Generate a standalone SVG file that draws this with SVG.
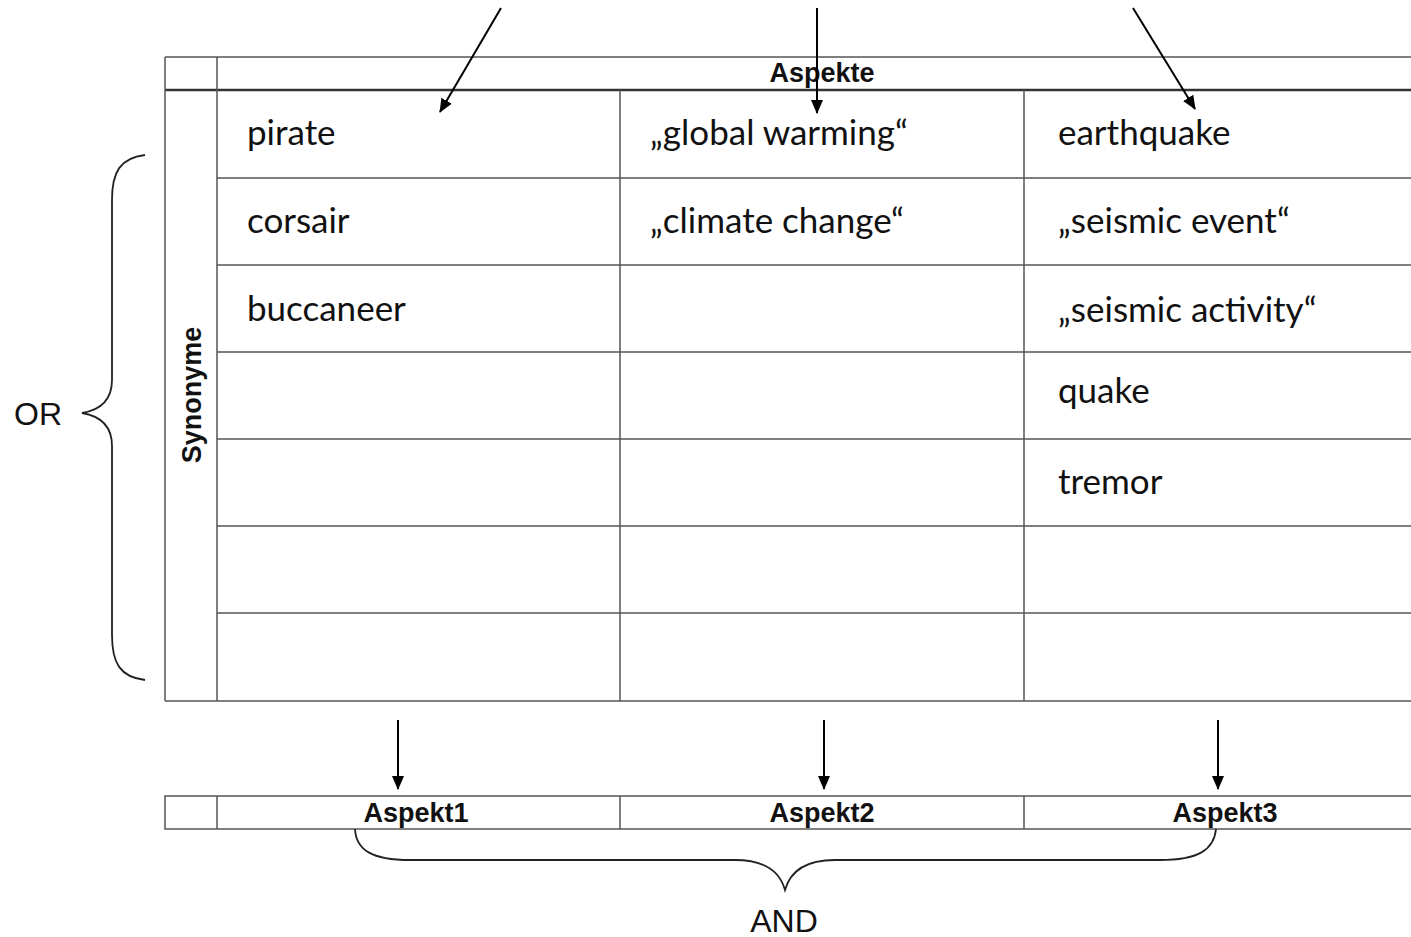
<svg xmlns="http://www.w3.org/2000/svg" width="1411" height="937" viewBox="0 0 1411 937">
<style>
.grid{stroke:#555;stroke-width:1.5;fill:none}
.thick{stroke:#333;stroke-width:2.5;fill:none}
.cell{font-family:Lato,"Open Sans",sans-serif;font-size:35px;fill:#111}
.hdr{font-family:"Liberation Sans",Arial,sans-serif;font-weight:bold;font-size:27px;fill:#111;text-anchor:middle}
.lbl{font-family:"Liberation Sans",Arial,sans-serif;font-size:32px;fill:#111;text-anchor:middle}
.arr{stroke:#000;stroke-width:2;fill:none;marker-end:url(#ahb)}
.brace{stroke:#222;stroke-width:1.8;fill:none}
</style>
<defs>
<marker id="ahb" markerWidth="14" markerHeight="14" refX="13" refY="7" orient="auto" markerUnits="userSpaceOnUse" viewBox="0 0 14 14">
<path d="M0,1 L14,7 L0,13 Z" fill="#000"/>
</marker>
</defs>
<rect width="1411" height="937" fill="#fff"/>

<g id="table-main">
<line class="grid" x1="165" y1="57" x2="1411" y2="57"/>
<line class="thick" x1="165" y1="90" x2="1411" y2="90"/>
<line class="grid" x1="165" y1="57" x2="165" y2="701"/>
<line class="grid" x1="217" y1="57" x2="217" y2="701"/>
<line class="grid" x1="620" y1="90" x2="620" y2="701"/>
<line class="grid" x1="1024" y1="90" x2="1024" y2="701"/>
<line class="grid" x1="217" y1="178" x2="1411" y2="178"/>
<line class="grid" x1="217" y1="265" x2="1411" y2="265"/>
<line class="grid" x1="217" y1="352" x2="1411" y2="352"/>
<line class="grid" x1="217" y1="439" x2="1411" y2="439"/>
<line class="grid" x1="217" y1="526" x2="1411" y2="526"/>
<line class="grid" x1="217" y1="613" x2="1411" y2="613"/>
<line class="grid" x1="165" y1="701" x2="1411" y2="701"/>
<text class="hdr" x="822" y="82">Aspekte</text>
<text class="hdr" transform="translate(201,395) rotate(-90)">Synonyme</text>
</g>

<g id="col1">
<text class="cell" x="247" y="145">pirate</text>
<text class="cell" x="247" y="233">corsair</text>
<text class="cell" x="247" y="321">buccaneer</text>
</g>
<g id="col2">
<text class="cell" x="650" y="145">„global warming“</text>
<text class="cell" x="650" y="233">„climate change“</text>
</g>
<g id="col3">
<text class="cell" x="1058" y="145">earthquake</text>
<text class="cell" x="1058" y="233">„seismic event“</text>
<text class="cell" x="1058" y="322">„seismic activity“</text>
<text class="cell" x="1058" y="403">quake</text>
<text class="cell" x="1058" y="494">tremor</text>
</g>

<g id="table-aspekte">
<rect class="grid" x="165" y="796" width="1260" height="33"/>
<line class="grid" x1="217" y1="796" x2="217" y2="829"/>
<line class="grid" x1="620" y1="796" x2="620" y2="829"/>
<line class="grid" x1="1024" y1="796" x2="1024" y2="829"/>
<text class="hdr" x="416" y="822">Aspekt1</text>
<text class="hdr" x="822" y="822">Aspekt2</text>
<text class="hdr" x="1225" y="822">Aspekt3</text>
</g>

<g id="or-brace">
<path class="brace" d="M145,155 C120,158 112,172 112,200 L112,380 C112,400 100,410 82,413 C100,416 112,426 112,446 L112,635 C112,663 120,677 145,680"/>
<text class="lbl" x="38" y="425">OR</text>
</g>

<g id="and-brace">
<path class="brace" d="M355,829 C356,850 372,860 410,860 L735,860 C765,860 780,872 785,890 C790,872 805,860 835,860 L1160,860 C1198,860 1214,850 1216,829"/>
<text class="lbl" x="784" y="932">AND</text>
</g>

<g id="connectors">
<line class="arr" x1="501" y1="8" x2="440" y2="112"/>
<line class="arr" x1="817" y1="8" x2="817" y2="113"/>
<line class="arr" x1="1133" y1="8" x2="1195" y2="109"/>
<line class="arr" x1="398" y1="720" x2="398" y2="789"/>
<line class="arr" x1="824" y1="720" x2="824" y2="789"/>
<line class="arr" x1="1218" y1="720" x2="1218" y2="789"/>
</g>
</svg>
